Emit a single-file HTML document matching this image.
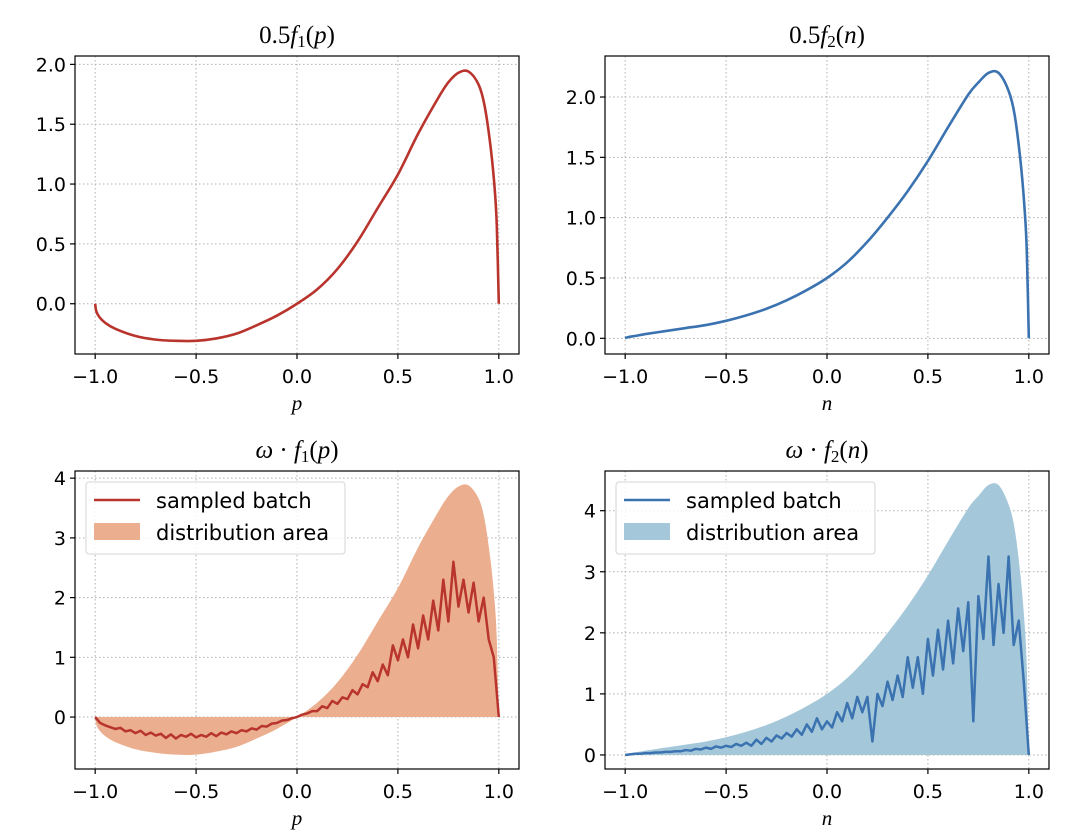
<!DOCTYPE html>
<html><head><meta charset="utf-8"><style>
body{margin:0;background:#fff;}
svg{display:block;font-family:"DejaVu Sans","Liberation Sans",sans-serif;}
</style></head><body>
<svg id="fig" width="1080" height="835" viewBox="0 0 1080 835" xmlns="http://www.w3.org/2000/svg"></svg>
<script>
const curveX = [-1,-0.995,-0.98,-0.95,-0.9,-0.8,-0.7,-0.6,-0.5,-0.4,-0.3,-0.2,-0.1,0,0.1,0.2,0.3,0.4,0.5,0.6,0.7,0.75,0.8,0.85,0.9,0.93,0.96,0.98,0.99,1.0];
const f1Half = [0,-0.06,-0.11,-0.16,-0.21,-0.27,-0.3,-0.31,-0.31,-0.29,-0.25,-0.18,-0.1,0,0.12,0.29,0.52,0.8,1.08,1.42,1.72,1.85,1.93,1.94,1.83,1.65,1.3,0.95,0.65,0];
const f2Half = [0,0.005,0.012,0.02,0.035,0.06,0.085,0.11,0.145,0.19,0.245,0.315,0.4,0.5,0.63,0.8,1.0,1.22,1.47,1.75,2.02,2.12,2.2,2.2,2.05,1.85,1.45,1.05,0.72,0];
const area1 = [0,-0.12,-0.22,-0.32,-0.42,-0.54,-0.6,-0.63,-0.63,-0.58,-0.5,-0.36,-0.2,0,0.24,0.58,1.04,1.6,2.16,2.84,3.44,3.7,3.86,3.88,3.66,3.3,2.6,1.9,1.3,0];
const area2 = [0,0.01,0.024,0.04,0.07,0.12,0.17,0.22,0.29,0.38,0.49,0.63,0.8,1.0,1.26,1.6,2.0,2.44,2.94,3.5,4.04,4.24,4.42,4.42,4.1,3.7,2.9,2.1,1.44,0];
const sampleX = [-1,-0.975,-0.95,-0.925,-0.9,-0.875,-0.85,-0.825,-0.8,-0.775,-0.75,-0.725,-0.7,-0.675,-0.65,-0.625,-0.6,-0.575,-0.55,-0.525,-0.5,-0.475,-0.45,-0.425,-0.4,-0.375,-0.35,-0.325,-0.3,-0.275,-0.25,-0.225,-0.2,-0.175,-0.15,-0.125,-0.1,-0.075,-0.05,-0.025,0,0.025,0.05,0.075,0.1,0.125,0.15,0.175,0.2,0.225,0.25,0.275,0.3,0.325,0.35,0.375,0.4,0.425,0.45,0.475,0.5,0.525,0.55,0.575,0.6,0.625,0.65,0.675,0.7,0.725,0.75,0.775,0.8,0.825,0.85,0.875,0.9,0.925,0.95,0.975,1.0];
const sample1 = [0,-0.1,-0.14,-0.17,-0.2,-0.18,-0.24,-0.22,-0.27,-0.23,-0.3,-0.26,-0.31,-0.28,-0.35,-0.29,-0.36,-0.3,-0.33,-0.28,-0.34,-0.3,-0.33,-0.27,-0.32,-0.26,-0.29,-0.24,-0.27,-0.22,-0.24,-0.19,-0.21,-0.15,-0.16,-0.11,-0.1,-0.06,-0.05,-0.02,0,0.04,0.06,0.1,0.1,0.18,0.15,0.27,0.22,0.33,0.3,0.45,0.38,0.55,0.5,0.75,0.6,0.88,0.7,1.2,0.95,1.3,1.0,1.55,1.15,1.7,1.3,1.95,1.45,2.3,1.6,2.6,1.85,2.3,1.75,2.25,1.6,2.0,1.3,1.0,0];
const sample2 = [0,0.01,0.02,0.02,0.03,0.03,0.04,0.04,0.05,0.05,0.06,0.06,0.08,0.07,0.1,0.09,0.12,0.1,0.14,0.12,0.15,0.13,0.18,0.15,0.2,0.15,0.25,0.18,0.28,0.22,0.32,0.27,0.36,0.3,0.42,0.33,0.5,0.38,0.6,0.42,0.55,0.45,0.7,0.55,0.85,0.6,0.95,0.7,0.95,0.22,1.0,0.8,1.2,0.9,1.3,0.95,1.6,1.1,1.6,1.0,1.9,1.3,2.05,1.4,2.2,1.5,2.4,1.7,2.5,0.55,2.6,1.9,3.25,1.8,2.8,2.0,3.25,1.8,2.2,1.2,0];
const xTicks = [-1.0,-0.5,0.0,0.5,1.0];
const yTicksTL = [0.0,0.5,1.0,1.5,2.0];
const yTicksTR = [0.0,0.5,1.0,1.5,2.0];
const yTicksB = [0,1,2,3,4];

const NS="http://www.w3.org/2000/svg";
const svg=document.getElementById('fig');
function mk(tag,attrs,parent){const e=document.createElementNS(NS,tag);for(const k in attrs)e.setAttribute(k,attrs[k]);(parent||svg).appendChild(e);return e;}
function fmtX(v){const s=Math.abs(v).toFixed(1);return (v<0?'\u2212':'')+s;}
function smooth(P){
  let d='';
  for(let i=0;i<P.length-1;i++){
    const p0=P[Math.max(0,i-1)],p1=P[i],p2=P[i+1],p3=P[Math.min(P.length-1,i+2)];
    const c1=[p1[0]+(p2[0]-p0[0])/6,p1[1]+(p2[1]-p0[1])/6];
    const c2=[p2[0]-(p3[0]-p1[0])/6,p2[1]-(p3[1]-p1[1])/6];
    d+=' C'+c1[0]+','+c1[1]+' '+c2[0]+','+c2[1]+' '+p2[0]+','+p2[1];
  }
  return d;
}

function panel(o){
  const g=mk('g',{});
  
  
  const sx=v=>o.x0+(v-(-1.1))/(2.2)*(o.x1-o.x0);
  const sy=v=>o.y1-(v-o.ymin)/(o.ymax-o.ymin)*(o.y1-o.y0);
  xTicks.forEach(t=>{const l=mk('line',{x1:sx(t),x2:sx(t),y1:o.y0,y2:o.y1,stroke:'#b0b0b0','stroke-width':1,'stroke-dasharray':'1.5,2.5'},g);
    });
  o.yt.forEach(t=>{const l=mk('line',{x1:o.x0,x2:o.x1,y1:sy(t),y2:sy(t),stroke:'#b0b0b0','stroke-width':1,'stroke-dasharray':'1.5,2.5'},g);
    });
  if(o.area){
    const P=curveX.map((x,i)=>[sx(x),sy(o.area[i])]);
    let d='M'+P[0][0]+','+P[0][1]+smooth(P)+' L'+sx(1)+','+sy(0)+' L'+sx(-1)+','+sy(0)+' Z';
    const p=mk('path',{d:d,fill:o.fill,stroke:'none'},g);
    
  }
  const lx=o.lineX, ly=o.lineY;
  let pl;
  if(o.area){
    const pts=lx.map((x,i)=>sx(x)+','+sy(ly[i])).join(' ');
    pl=mk('polyline',{points:pts,fill:'none',stroke:o.color,'stroke-width':2.5,'stroke-linejoin':'round'},g);
  } else {
    const P=lx.map((x,i)=>[sx(x),sy(ly[i])]);
    pl=mk('path',{d:'M'+P[0][0]+','+P[0][1]+smooth(P),fill:'none',stroke:o.color,'stroke-width':2.6},g);
  }
  
  const fr=mk('rect',{x:o.x0,y:o.y0,width:o.x1-o.x0,height:o.y1-o.y0,fill:'none',stroke:'#000','stroke-width':1.2},g);
  
  xTicks.forEach(t=>{mk('line',{x1:sx(t),x2:sx(t),y1:o.y1,y2:o.y1+5,stroke:'#000','stroke-width':1.2},g);
    const tx=mk('text',{x:sx(t),y:o.y1+29,'text-anchor':'middle','font-size':19,fill:'#000'},g);tx.textContent=fmtX(t);
    });
  o.yt.forEach(t=>{mk('line',{x1:o.x0-5,x2:o.x0,y1:sy(t),y2:sy(t),stroke:'#000','stroke-width':1.2},g);
    const tx=mk('text',{x:o.x0-9,y:sy(t)+7,'text-anchor':'end','font-size':19,fill:'#000'},g);tx.textContent=o.yfmt(t);
    });
  const xl=mk('text',{x:(o.x0+o.x1)/2,y:o.y1+56,'text-anchor':'middle','font-size':21,'font-style':'italic','font-family':'"Liberation Serif",serif'},g);
  xl.textContent=o.xlab;
  const tt=mk('text',{x:(o.x0+o.x1)/2,y:o.y0-13,'text-anchor':'middle','font-size':25,'font-family':'"Liberation Serif",serif'},g);
  tt.innerHTML=o.title;
  if(o.area){
    const lg=mk('g',{},g);
    const bx=o.x0+11, by=o.y0+11;
    mk('rect',{x:bx,y:by,width:259,height:72,rx:3,fill:'#fff','fill-opacity':0.85,stroke:'#d5d5d5','stroke-width':1},lg);
    const e1=mk('g',{},lg);
    mk('line',{x1:bx+8,x2:bx+54,y1:by+18,y2:by+18,stroke:o.color,'stroke-width':2.5},e1);
    const t1=mk('text',{x:bx+70,y:by+26,'font-size':21},e1);t1.textContent='sampled batch';
    const e2=mk('g',{},lg);
    mk('rect',{x:bx+8,y:by+41,width:46,height:17,fill:o.fill},e2);
    const t2=mk('text',{x:bx+70,y:by+58,'font-size':21},e2);t2.textContent='distribution area';
  }
}
const red='#b8342d', blue='#3b72b0';
panel({name:'panel-half-f1',x0:75,x1:519,y0:56,y1:354,ymin:-0.42,ymax:2.07,yt:yTicksTL,yfmt:v=>v.toFixed(1),
  lineX:curveX,lineY:f1Half,color:red,xlab:'p',title:'0.5<tspan font-style="italic">f</tspan><tspan font-size="17" dy="4">1</tspan><tspan dy="-4">(</tspan><tspan font-style="italic">p</tspan>)'});
panel({name:'panel-half-f2',x0:605,x1:1049,y0:56,y1:354,ymin:-0.13,ymax:2.34,yt:yTicksTR,yfmt:v=>v.toFixed(1),
  lineX:curveX,lineY:f2Half,color:blue,xlab:'n',title:'0.5<tspan font-style="italic">f</tspan><tspan font-size="17" dy="4">2</tspan><tspan dy="-4">(</tspan><tspan font-style="italic">n</tspan>)'});
panel({name:'panel-weighted-f1',x0:75,x1:519,y0:471,y1:769,ymin:-0.87,ymax:4.12,yt:yTicksB,yfmt:v=>String(v),
  lineX:sampleX,lineY:sample1,area:area1,fill:'#ebaf8f',color:red,xlab:'p',title:'<tspan font-style="italic">ω</tspan> · <tspan font-style="italic">f</tspan><tspan font-size="17" dy="4">1</tspan><tspan dy="-4">(</tspan><tspan font-style="italic">p</tspan>)'});
panel({name:'panel-weighted-f2',x0:605,x1:1049,y0:471,y1:769,ymin:-0.23,ymax:4.65,yt:yTicksB,yfmt:v=>String(v),
  lineX:sampleX,lineY:sample2,area:area2,fill:'#a4c8da',color:blue,xlab:'n',title:'<tspan font-style="italic">ω</tspan> · <tspan font-style="italic">f</tspan><tspan font-size="17" dy="4">2</tspan><tspan dy="-4">(</tspan><tspan font-style="italic">n</tspan>)'});
</script>
</body></html>
